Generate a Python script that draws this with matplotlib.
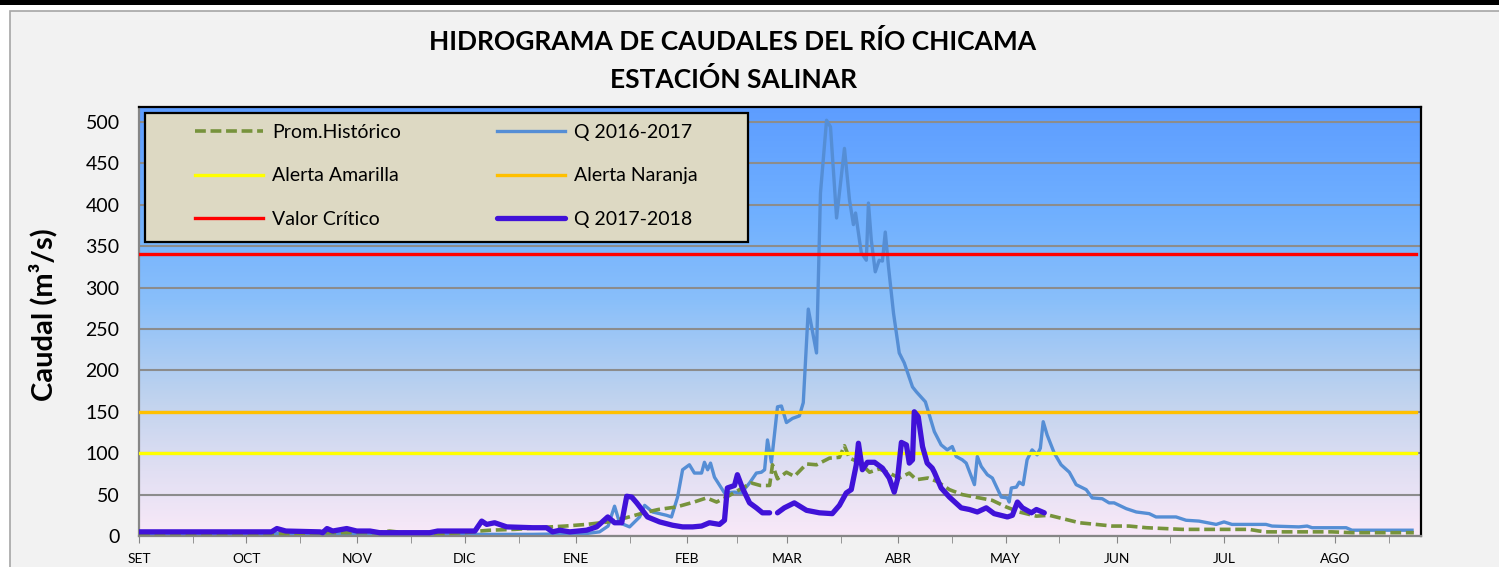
import numpy as np
import matplotlib.pyplot as plt
from matplotlib.patches import Rectangle
from matplotlib.legend import Legend

plt.rcParams['font.family'] = ['Lato', 'DejaVu Sans']

# eje x: dias desde el 1 de setiembre
months = ['SET', 'OCT', 'NOV', 'DIC', 'ENE', 'FEB', 'MAR', 'ABR', 'MAY', 'JUN', 'JUL', 'AGO']
month_days = [0, 30, 61, 91, 122, 153, 181, 212, 242, 273, 303, 334]
mid_days = [15, 45, 76, 106, 137, 167, 196, 227, 257, 288, 318, 349]

# promedio historico
hist_days = [0, 20, 40, 55, 66, 70, 74, 85, 91, 95,
             98, 105, 115, 119, 125, 131, 136, 141, 145, 150,
             155, 158.5, 161.3, 164.9, 168.5, 171, 173.5, 176.1, 176.9, 178.3,
             180.8, 183, 186.4, 189.2, 192.8, 195.6, 197, 198.4, 201.2, 204,
             206.7, 209.5, 212.3, 215.1, 217.1, 220.3, 222.8, 226.3, 229.9, 234.7,
             238.3, 242.2, 245.8, 250.6, 254.2, 257, 262.6, 267.3, 271.8, 276.5,
             281.3, 291.3, 310, 312.8, 314.7, 333.1, 338.7, 356]
hist_q = [3, 3, 3, 4, 4, 6, 4, 3, 4, 6,
          7, 8, 11, 12, 14, 17, 22, 28, 32, 35,
          41, 46, 41, 49, 58, 64, 61, 61, 86, 69,
          77, 72, 87, 86, 94, 95, 109, 94, 89, 77,
          81, 76, 70, 76, 68, 70, 66, 56, 50, 46,
          43, 35, 29, 24, 25, 22, 16, 14, 12, 12,
          10, 8, 8, 6, 5, 5, 4, 4]

# Q 2016-2017
q1617_days = [0, 30, 60, 90, 110, 125, 128.6, 131, 132.8, 134.2,
              137, 139.8, 141.2, 143.4, 147.3, 148.7, 150.4, 151.8, 153.7, 155.1,
              157.1, 157.9, 158.8, 159.6, 160.7, 163.5, 166.3, 168.2, 170.5, 172.4,
              173.8, 174.7, 175.5, 176.6, 178.3, 179.4, 180.8, 182.5, 184.4, 185.5,
              186.9, 189.2, 190.3, 192, 193.1, 194.8, 197, 198.4, 199.5, 200.1,
              201.7, 203.1, 203.7, 204.5, 205.6, 206.7, 207.6, 208.4, 209.3, 210.7,
              212.3, 213.7, 216, 217.1, 219.6, 222.1, 224, 225.7, 227.1, 228.2,
              229.9, 231, 233.3, 234.1, 235.2, 236.9, 238.3, 240.8, 242.5, 243,
              243.6, 245, 245.8, 246.9, 248, 249.4, 250.8, 251.7, 252.5, 253.6,
              255.6, 257.5, 259.8, 261.7, 264.5, 266.2, 269, 270.9, 272.3, 275.7,
              278.5, 282.1, 284, 287.7, 289.6, 292.4, 296, 300.8, 303, 305.2,
              314.7, 316.4, 323.9, 326.2, 327.6, 337.1, 338.7, 355.5]
q1617 = [3, 3, 3, 2, 2, 3, 5, 12, 36, 16,
         11, 23, 37, 29, 25, 23, 47, 80, 86, 76,
         76, 89, 80, 88, 71, 52, 53, 52, 64, 76,
         77, 80, 116, 89, 156, 157, 137, 142, 145, 161,
         274, 221, 414, 502, 494, 384, 468, 406, 376, 390,
         342, 333, 402, 357, 319, 333, 332, 367, 325, 269,
         221, 209, 180, 174, 162, 126, 110, 104, 108, 96,
         92, 88, 62, 96, 84, 74, 70, 47, 46, 41,
         58, 59, 65, 62, 92, 104, 98, 106, 138, 122,
         100, 86, 77, 62, 56, 46, 45, 40, 40, 33,
         29, 27, 23, 23, 23, 19, 18, 14, 17, 14,
         14, 12, 11, 12, 10, 10, 7, 7]

# Q 2017-2018 (sin dato a fines de febrero)
q1718_days = [0, 37, 38.5, 41, 50.5, 51.3, 52.5, 54.1, 58, 60.8,
              64.5, 67.2, 81.2, 83.4, 93.8, 95.7, 97.1, 99.3, 102.7, 109.9,
              113.8, 115.5, 117.5, 120.3, 125, 127.8, 130.9, 132.8, 134.8, 136.2,
              137.6, 139, 140.6, 142, 145.4, 149, 151.8, 154.6, 157.1, 159.3,
              162.1, 163.5, 164.3, 166.3, 167.1, 168.5, 170.5, 172.4, 174.1, 176.1,
              177.2, 178.3, 180.2, 183, 186.4, 190, 193.6, 195.6, 197.5, 198.9,
              200.3, 200.9, 202, 203.4, 205.4, 207.6, 209.5, 210.9, 211.8, 212.9,
              214.3, 215.1, 216, 216.5, 217.6, 218.8, 220.1, 221.5, 222.1, 224,
              226.3, 229.6, 231.9, 234.1, 236.6, 238.8, 242.5, 243.9, 245.3, 246.7,
              249.2, 250.6, 252.8]
q1718 = [5, 5, 9, 6, 5, 4, 9, 6, 9, 6,
         6, 4, 4, 6, 6, 18, 14, 16, 11, 10,
         10, 5, 7, 5, 7, 11, 23, 16, 16, 48,
         47, 40, 31, 23, 17, 13, 11, 11, 12, 16,
         14, 19, 58, 61, 74, 58, 40, 34, 28, 28,
         np.nan, 28, 34, 40, 31, 28, 27, 37, 52, 56,
         86, 112, 80, 89, 89, 82, 70, 53, 68, 113,
         110, 88, 92, 150, 144, 108, 88, 82, 77, 58,
         47, 34, 32, 29, 34, 27, 23, 25, 41, 34,
         28, 32, 28]

# umbrales
alert_days = [0, 356.5]
alerta_amarilla = 100
alerta_naranja = 150
valor_critico = 340

W, H = 1499, 567
fig = plt.figure(figsize=(W / 100, H / 100), dpi=100)
fig.patch.set_facecolor('white')

# marco del grafico (detras de los ejes)
fig.add_artist(Rectangle((10 / W, -0.05), 1.1, 1 - 11 / H + 0.05, transform=fig.transFigure,
                         facecolor='#f2f2f2', edgecolor='#a6a6a6', lw=1.2, zorder=-10))
fig.add_artist(Rectangle((0, 1 - 5 / H), 1, 5 / H, transform=fig.transFigure,
                         facecolor='black', edgecolor='none', zorder=-9))

ax = fig.add_axes([139 / W, 31 / H, 1282 / W, 429 / H])

# fondo degradado
stops = [0.0, 0.15, 0.32, 0.55, 0.75, 1.0]
cols = np.array([(249, 233, 248), (225, 223, 243), (192, 211, 238),
                 (137, 191, 250), (112, 176, 255), (93, 157, 255)]) / 255
t = np.linspace(0, 1, 300)
grad = np.stack([np.interp(t, stops, cols[:, i]) for i in range(3)], axis=-1)[:, None, :]
ax.imshow(grad, extent=[0, 1, 0, 1], transform=ax.transAxes, aspect='auto',
          origin='lower', zorder=0, interpolation='bilinear')

ax.plot(q1617_days, q1617, color='#558ed5', lw=2.4, zorder=2, label='Q 2016-2017')
ax.plot(hist_days, hist_q, color='#77933c', lw=2.6, dashes=(3.0, 1.3), zorder=3,
        label='Prom.Histórico')
ax.plot(alert_days, [alerta_amarilla] * 2, color='#ffff00', lw=2.4, zorder=4, label='Alerta Amarilla')
ax.plot(alert_days, [alerta_naranja] * 2, color='#ffc000', lw=2.4, zorder=4, label='Alerta Naranja')
ax.plot(alert_days, [valor_critico] * 2, color='#ff0000', lw=2.4, zorder=4, label='Valor Crítico')
ax.plot(q1718_days, q1718, color='#4012d8', lw=3.8, zorder=5, solid_capstyle='round',
        solid_joinstyle='round', label='Q 2017-2018')

ax.set_xlim(0, 358)
ax.set_ylim(0, 518)
ax.set_yticks(range(0, 501, 50))
ax.yaxis.grid(True, color='#8c8c8c', lw=1.5)
ax.set_axisbelow(True)
ax.tick_params(axis='y', length=0, labelsize=14, pad=14)
ax.set_xticks(month_days)
ax.set_xticklabels(months)
ax.set_xticks(mid_days, minor=True)
ax.tick_params(axis='x', which='both', direction='out', color='#868686', length=5,
               labelsize=10, pad=7)

for s in ['top', 'right']:
    ax.spines[s].set_color('black')
    ax.spines[s].set_linewidth(1.6)
for s in ['left', 'bottom']:
    ax.spines[s].set_color('#868686')
    ax.spines[s].set_linewidth(1.6)

# leyenda: caja propia y dos columnas
ax.add_patch(Rectangle((6 / 1282, 294 / 429), 603 / 1282, 129 / 429, transform=ax.transAxes,
                       facecolor='#ddd9c3', edgecolor='black', lw=1.6, zorder=6))
h, l = ax.get_legend_handles_labels()
hd = dict(zip(l, h))
col1 = ['Prom.Histórico', 'Alerta Amarilla', 'Valor Crítico']
col2 = ['Q 2016-2017', 'Alerta Naranja', 'Q 2017-2018']
for names, xpx in [(col1, 195), (col2, 497)]:
    leg = Legend(ax, [hd[n] for n in names], names, loc='upper left',
                 bbox_to_anchor=((xpx - 139) / 1282, (536 - 124) / 429),
                 frameon=False, borderpad=0, fontsize=14, handlelength=3.5,
                 handletextpad=0.45, labelspacing=1.36, borderaxespad=0)
    leg.set_zorder(7)
    ax.add_artist(leg)

fig.text(733 / W, 1 - 42 / H, 'HIDROGRAMA DE CAUDALES DEL RÍO CHICAMA', ha='center',
         va='center', fontsize=19, fontweight='bold')
fig.text(733 / W, 1 - 80 / H, 'ESTACIÓN SALINAR', ha='center', va='center',
         fontsize=19, fontweight='bold')
fig.text(43 / W, 1 - 315 / H, 'Caudal (m³/s)', ha='center', va='center', rotation=90,
         fontsize=21, fontweight='bold')

fig.savefig('out.png', dpi=100)
